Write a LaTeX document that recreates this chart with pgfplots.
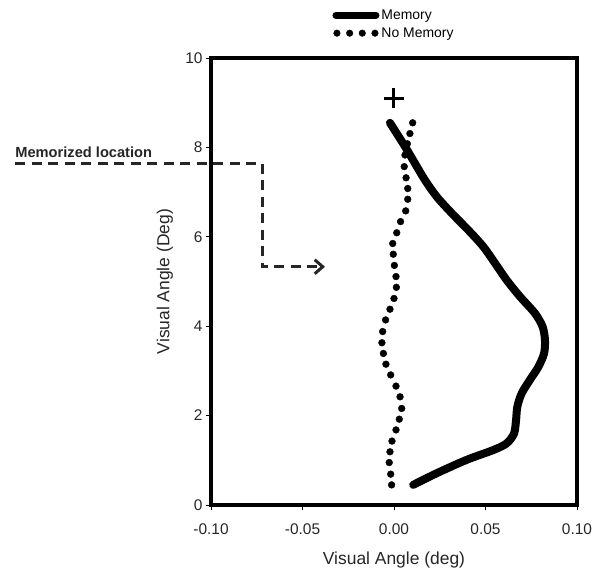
\documentclass[border=0pt]{standalone}
\usepackage{fontspec}
\setmainfont{Liberation Sans}
\usepackage{pgfplots}
\pgfplotsset{compat=1.18}
\usetikzlibrary{arrows.meta,calc}

\begin{document}
\begin{tikzpicture}
\begin{axis}[
  scale only axis, width=366bp, height=447bp,
  xmin=-0.1, xmax=0.1, ymin=0, ymax=10,
  xtick={-0.1,-0.05,0,0.05,0.1},
  xticklabels={-0.10,-0.05,0.00,0.05,0.10},
  ytick={0,2,4,6,8,10},
  yticklabels={0,2,4,6,8,10},
  /pgf/number format/assume math mode=true,
  tick align=outside, tick pos=left,
  major tick length=5bp,
  tick style={line width=0.8pt, black},
  axis line style={line width=3.5bp},
  tick label style={font=\fontsize{15.5}{17}\selectfont, text=black!85},
  xticklabel style={yshift=-10bp},
  xlabel={Visual Angle (deg)}, ylabel={Visual Angle (Deg)},
  label style={font=\fontsize{17.5}{20}\selectfont, text=black!85},
  xlabel style={at={(axis description cs:0.5,-0.122)}, anchor=center},
  ylabel style={at={(axis description cs:-0.126,0.5)}, anchor=center},
  clip=false,
  legend style={at={(axis description cs:0.5,1.036)}, anchor=south, draw=none, fill=none,
    font=\fontsize{14}{15}\selectfont, row sep=3bp, inner sep=1bp},
  legend cell align=left,
]
% memory trajectory
\addplot[black, line width=8bp, line cap=round, smooth,
  legend image code/.code={\draw[black,line width=7bp,line cap=round] (0bp,0bp) -- (40bp,0bp);}]
  coordinates {
  (-0.0022,8.55) (0.0060,8.02) (0.0115,7.64) (0.0169,7.27) (0.0233,6.90)
  (0.0315,6.53) (0.0406,6.15) (0.0488,5.78) (0.0552,5.41) (0.0616,5.03)
  (0.0689,4.66) (0.0770,4.29) (0.0812,3.99) (0.0825,3.69) (0.0820,3.39)
  (0.0789,3.09) (0.0743,2.80) (0.0698,2.50) (0.0674,2.20) (0.0667,1.90)
  (0.0656,1.60) (0.0616,1.38) (0.0543,1.23) (0.0397,1.01) (0.0233,0.71)
  (0.0105,0.45)};
\addlegendentry{Memory}
% no memory trajectory
\addplot[only marks, mark=*, mark size=3.4bp, black,
  legend image code/.code={\foreach \x in {1,13.7,26.3,39}{\fill[black] (\x bp,0bp) circle (3.3bp);}}]
  coordinates {
  (0.0102,8.55) (0.0087,8.31) (0.0073,8.08) (0.0060,7.83) (0.0056,7.57)
  (0.0066,7.32) (0.0075,7.08) (0.0075,6.84) (0.0064,6.58) (0.0036,6.34)
  (0.0015,6.09) (-0.0007,5.85) (-0.0004,5.61) (0.0002,5.36) (0.0011,5.11)
  (0.0013,4.87) (0.0000,4.62) (-0.0022,4.38) (-0.0046,4.14) (-0.0062,3.88)
  (-0.0066,3.63) (-0.0058,3.39) (-0.0044,3.15) (-0.0018,2.91) (0.0011,2.66)
  (0.0033,2.42) (0.0042,2.16) (0.0029,1.92) (0.0011,1.68) (-0.0011,1.43)
  (-0.0022,1.19) (-0.0026,0.95) (-0.0018,0.69) (-0.0013,0.45)};
\addlegendentry{No Memory}
% fixation cross
\addplot[only marks, mark=+, mark size=10bp, line width=3bp, black, forget plot]
  coordinates {(0,9.1)};
% annotation
\node[anchor=west, font=\bfseries\fontsize{14.7}{16}\selectfont, inner sep=0pt, text=black!85]
  at (axis cs:-0.207,7.89) {Memorized location};
\draw[line width=3bp, dash pattern=on 10bp off 6.5bp, black!85,
  -{Straight Barb[length=8bp,width=14bp]}]
  (axis cs:-0.207,7.65) -- (axis cs:-0.0721,7.65) -- (axis cs:-0.0721,5.33) -- (axis cs:-0.0377,5.33);
\end{axis}
\pgfresetboundingbox
\path ($(current axis.south west)+(-211bp,-64bp)$) rectangle ($(current axis.north east)+(25bp,58bp)$);
\end{tikzpicture}
\end{document}
